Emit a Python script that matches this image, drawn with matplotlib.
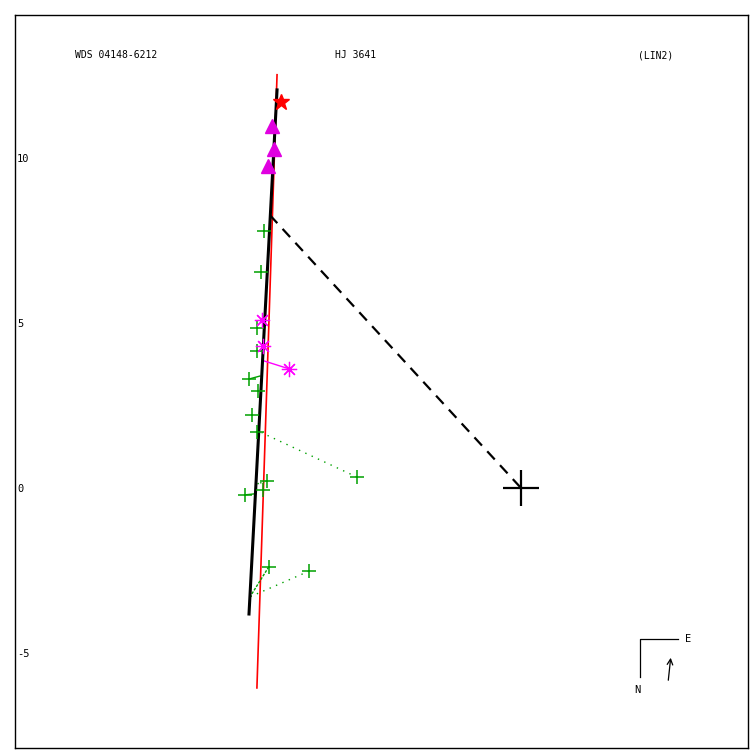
import numpy as np
import matplotlib.pyplot as plt

plt.rcParams['axes.unicode_minus'] = False
plt.rcParams['font.family'] = 'DejaVu Sans Mono'

# orbit / reference lines (arcsec)
red_x = [-7.39, -8.00]
red_y = [12.52, -6.06]
orbit_x = [-7.39, -8.24]
orbit_y = [12.06, -3.82]
node_x = [-7.61, 0.0]
node_y = [8.27, 0.0]

# observations
star_x, star_y = [-7.27], [11.70]
tri_x = [-7.55, -7.48, -7.67]
tri_y = [10.97, 10.27, 9.76]
ast_x = [-7.85, -7.82, -7.03]
ast_y = [5.09, 4.30, 3.61]
plus_x = [-7.79, -7.88, -8.00, -8.00, -8.24, -7.97, -8.15, -8.00,
          -4.97, -7.70, -7.82, -8.36, -7.64, -6.42]
plus_y = [7.79, 6.55, 4.85, 4.15, 3.30, 2.94, 2.21, 1.70,
          0.33, 0.21, -0.06, -0.21, -2.39, -2.52]

# residual lines: (obs x, obs y, orbit x, orbit y, colour, style)
res = [(-4.97, 0.33, -7.85, 1.67, '#00a000', (0, (1, 4))),
       (-6.42, -2.52, -8.21, -3.30, '#00a000', (0, (1, 4))),
       (-7.64, -2.39, -8.21, -3.30, '#00a000', (0, (2, 1))),
       (-7.03, 3.61, -7.79, 3.85, '#ff00ff', '-'),
       (-8.24, 3.30, -7.91, 3.39, '#00a000', '-'),
       (-8.36, -0.21, -8.08, -0.18, '#00a000', '-'),
       (-7.70, 0.21, -8.00, 0.12, '#00a000', (0, (1, 1)))]

fig = plt.figure(figsize=(7.5, 7.5), dpi=100)
ax = fig.add_axes([15 / 750, 2 / 750, 733 / 750, 733 / 750])
ax.set_xlim(-15.33, 6.88)
ax.set_ylim(-7.88, 14.33)

ax.plot(red_x, red_y, color='red', lw=1.2, zorder=2)
ax.plot(orbit_x, orbit_y, color='black', lw=2.2, zorder=2.5)
ax.plot(node_x, node_y, color='black', lw=1.6, ls=(0, (5, 3.5)), zorder=2)

for x0, y0, x1, y1, c, s in res:
    ax.plot([x0, x1], [y0, y1], color=c, ls=s, lw=1, zorder=2)

ax.plot(plus_x, plus_y, ls='none', marker='+', ms=9.5, mew=1.1,
        color='#00a000', zorder=3)
ax.plot(ast_x, ast_y, ls='none', marker=(8, 2, 0), ms=11, mew=0.9,
        color='#ff00ff', zorder=3)
ax.plot(tri_x, tri_y, ls='none', marker='^', ms=9.5, color='#e000e0',
        mec='#e000e0', zorder=3)
ax.plot(star_x, star_y, ls='none', marker='*', ms=12, color='red', zorder=3)
ax.plot([0], [0], ls='none', marker='+', ms=26, mew=1.6, color='black', zorder=3)

ax.set_xticks([])
ax.set_yticks([-5, 0, 5, 10])
ax.tick_params(axis='y', length=0, pad=-1.5, labelsize=7.5)
for lbl in ax.get_yticklabels():
    lbl.set_ha('left')
for sp in ax.spines.values():
    sp.set_linewidth(1)

fig.text(75 / 750, 1 - 55 / 750, 'WDS 04148-6212', fontsize=7, va='center')
fig.text(335 / 750, 1 - 55 / 750, 'HJ 3641', fontsize=7, va='center')
fig.text(638 / 750, 1 - 55 / 750, '(LIN2)', fontsize=7, va='center')

# compass
def fx(px):
    return (px - 15) / 733

def fy(py):
    return (748 - py) / 733

ax.plot([fx(678), fx(640), fx(640)], [fy(639), fy(639), fy(677)],
        color='black', lw=0.9, transform=ax.transAxes)
ax.annotate('', xy=(fx(671), fy(655)), xytext=(fx(668), fy(683)),
            xycoords='axes fraction', textcoords='axes fraction',
            arrowprops=dict(arrowstyle='->', lw=0.9, color='black'))
ax.text(fx(685), fy(639), 'E', fontsize=7.5, va='center', transform=ax.transAxes)
ax.text(fx(634), fy(690), 'N', fontsize=7.5, va='center', transform=ax.transAxes)

fig.savefig('out.png', dpi=100)
